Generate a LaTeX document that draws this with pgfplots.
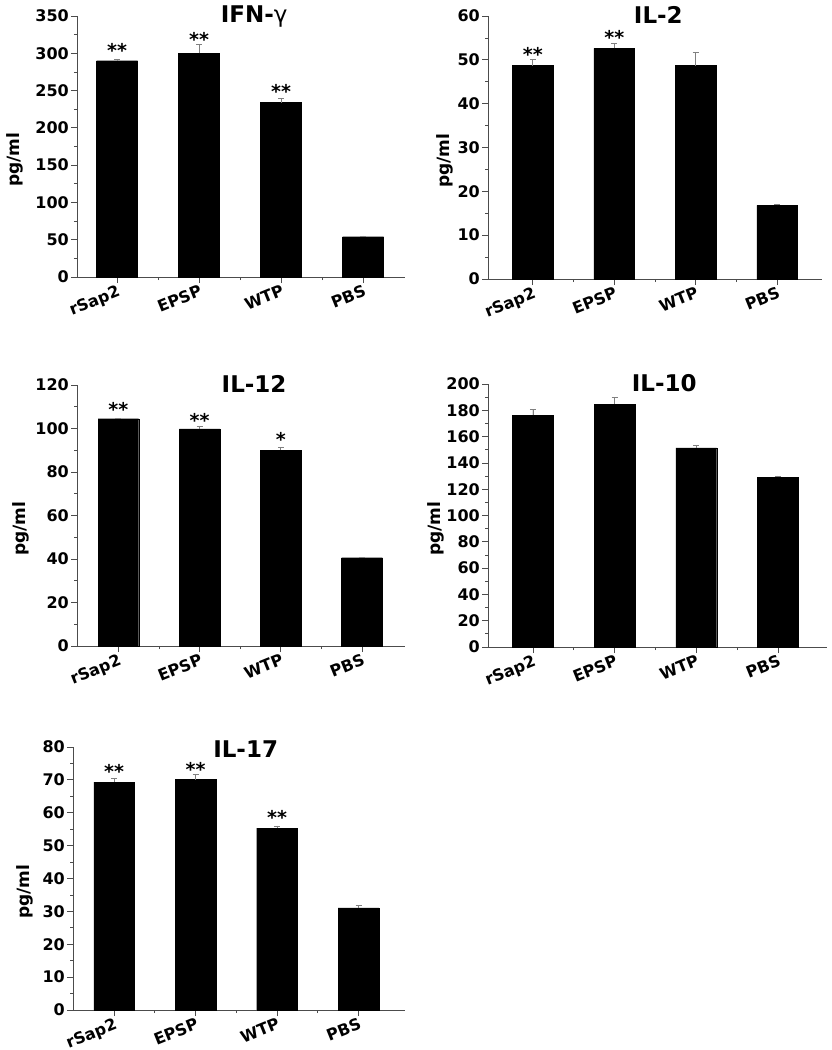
\documentclass[border=0pt]{standalone}
\usepackage{fontspec}
\setmainfont{DejaVu Sans}
\usepackage{pgfplots}
\pgfplotsset{compat=1.18}

\definecolor{axc}{gray}{0.3}
\newcommand\tk{\fontsize{16}{18}\selectfont\bfseries}
\newcommand\lb{\fontsize{17}{19}\selectfont\bfseries}
\newcommand\ttl{\fontsize{23}{25}\selectfont\bfseries}
\newcommand\st{\fontsize{19}{20}\selectfont\bfseries}

\pgfplotsset{
  panel/.style={
    scale only axis, anchor=south west, clip=false,
    axis x line=bottom, axis y line=left,
    axis line style={-, draw=axc, line width=0.9pt},
    ymin=0,
    xtick={0,1,2,3}, xticklabels={rSap2,EPSP,WTP,PBS},
    minor x tick num=1, minor y tick num=1,
    tick align=outside, major tick length=6pt, minor tick length=3pt,
    every tick/.style={draw=axc, line width=0.8pt},
    tick label style={font=\tk},
    /pgf/number format/assume math mode=true,
    x tick label style={rotate=22, anchor=north east, inner sep=1pt},
    yticklabel style={inner sep=2pt},
    ylabel={pg/ml}, ylabel style={font=\lb, anchor=center},
    title style={font=\ttl},
    every axis title shift=0pt,
  },
  ttlat/.style 2 args={title style={at={(axis description cs:#1,#2)}, anchor=base, inner sep=0pt}},
  bars/.style={
    ybar, bar width=0.5, fill=black, draw=black,
    error bars/.cd, y dir=plus, y explicit,
    error bar style={draw=gray, line width=0.7pt},
    error mark options={rotate=90, mark size=3pt, draw=gray, line width=0.7pt},
  },
  stars/.style={
    draw=none, mark=none, nodes near coords, point meta=explicit symbolic,
    every node near coord/.append style={font=\st, anchor=base, yshift=-10pt},
  },
}

\begin{document}
\begin{tikzpicture}
\useasboundingbox (0,0) rectangle (831pt,-1050pt);

% IFN-gamma
\begin{axis}[panel, at={(77pt,-277pt)}, width=328pt, height=261pt,
  xmin=-0.49, xmax=3.51, ymax=350, ytick={0,50,...,350},
  title={IFN-{\mdseries γ}}, ttlat={0.54}{0.975},
  ylabel style={at={(axis description cs:-0.19,0.45)}}]
\addplot[bars] coordinates {(0,290) +- (0,2) (1,300) +- (0,12) (2,234) +- (0,5) (3,54) +- (0,1)};
\addplot[stars] coordinates {(0,308) [**] (1,323) [**] (2,253) [**]};
\end{axis}

% IL-2
\begin{axis}[panel, at={(488pt,-279pt)}, width=334pt, height=263pt,
  xmin=-0.55, xmax=3.55, ymax=60, ytick={0,10,...,60},
  title={IL-2}, ttlat={0.51}{0.972},
  ylabel style={at={(axis description cs:-0.13,0.45)}}]
\addplot[bars] coordinates {(0,48.7) +- (0,1.3) (1,52.6) +- (0,1.1) (2,48.7) +- (0,3) (3,16.8) +- (0,0.2)};
\addplot[stars] coordinates {(0,51.9) [**] (1,55.8) [**]};
\end{axis}

% IL-12
\begin{axis}[panel, at={(77pt,-646pt)}, width=328pt, height=261pt,
  xmin=-0.51, xmax=3.53, ymax=120, ytick={0,20,...,120},
  title={IL-12}, ttlat={0.54}{0.971},
  ylabel style={at={(axis description cs:-0.17,0.45)}}]
\addplot[bars] coordinates {(0,104.5) +- (0,0.3) (1,99.8) +- (0,1.2) (2,90.1) +- (0,1.3) (3,40.6) +- (0,0.3)};
\addplot[stars] coordinates {(0,110) [**] (1,105.1) [**] (2,96.2) [*]};
\end{axis}

% IL-10
\begin{axis}[panel, at={(488pt,-647pt)}, width=339pt, height=263pt,
  xmin=-0.55, xmax=3.6, ymax=200, ytick={0,20,...,200},
  title={IL-10}, ttlat={0.52}{0.973},
  ylabel style={at={(axis description cs:-0.155,0.45)}}]
\addplot[bars] coordinates {(0,176.4) +- (0,4.5) (1,184.7) +- (0,4.8) (2,151.5) +- (0,1.5) (3,129.1) +- (0,1)};
\end{axis}

% IL-17
\begin{axis}[panel, at={(73pt,-1010pt)}, width=332pt, height=263pt,
  xmin=-0.505, xmax=3.57, ymax=80, ytick={0,10,...,80},
  title={IL-17}, ttlat={0.52}{0.96},
  ylabel style={at={(axis description cs:-0.145,0.45)}}]
\addplot[bars] coordinates {(0,69.3) +- (0,1.1) (1,70.1) +- (0,1.6) (2,55.3) +- (0,0.7) (3,31.1) +- (0,0.8)};
\addplot[stars] coordinates {(0,73.5) [**] (1,74) [**] (2,59.5) [**]};
\end{axis}
\end{tikzpicture}
\end{document}
